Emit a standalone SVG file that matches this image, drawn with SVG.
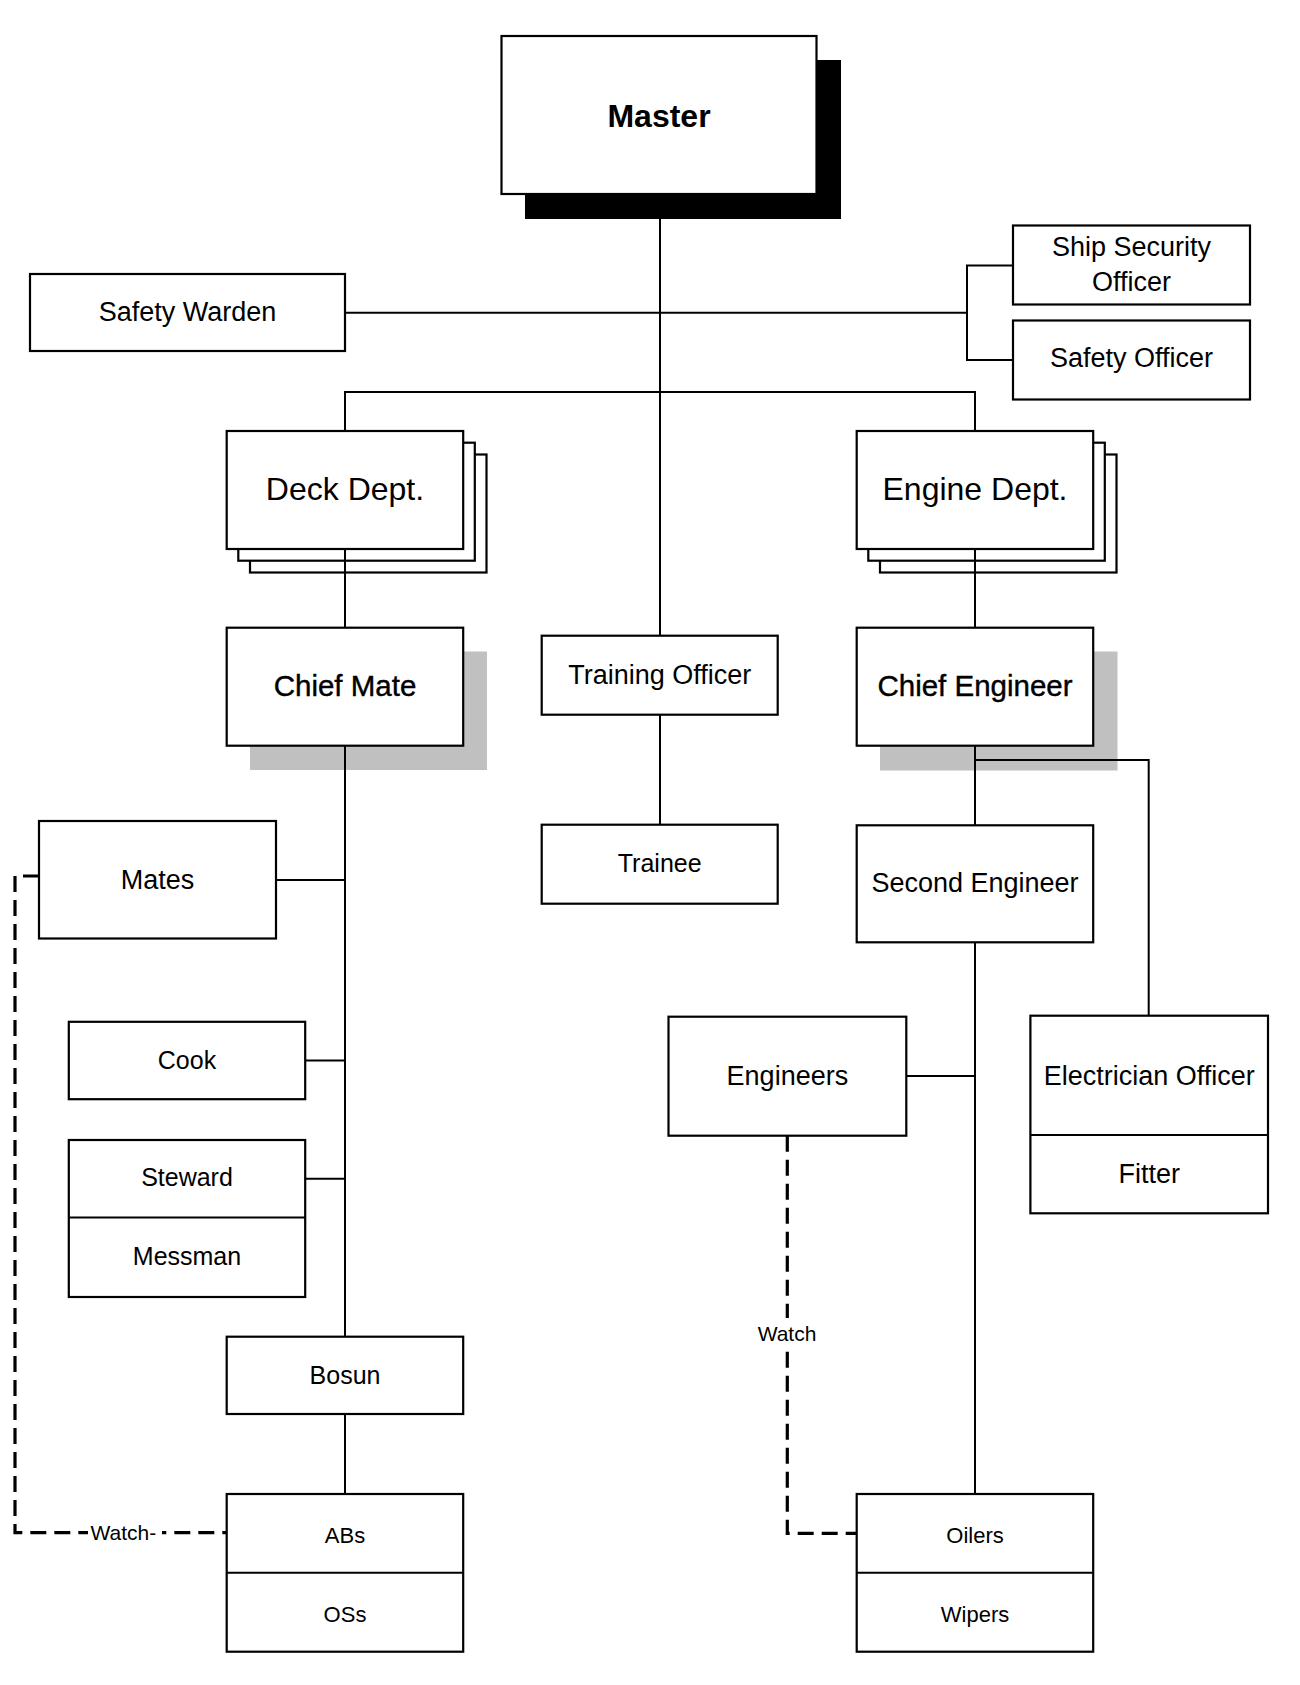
<svg xmlns="http://www.w3.org/2000/svg" width="1300" height="1685" viewBox="0 0 1300 1685">
<style>
.box{fill:#fff;stroke:#000;stroke-width:2.2}
.ln{fill:none;stroke:#000;stroke-width:2}
.dash{fill:none;stroke:#000;stroke-width:3.2;stroke-dasharray:16 8}
.gray{fill:#c0c0c0}
text{font-family:"Liberation Sans",Arial,sans-serif;fill:#000;text-anchor:middle}
.t27{font-size:27px}
.t25{font-size:25px}
.t22{font-size:22px}
.t32{font-size:32px}
.b{font-weight:bold}
.med{font-size:29.5px;stroke:#000;stroke-width:0.4}
</style>
<rect width="1300" height="1685" fill="#fff"/>
<g id="master">
<rect x="525" y="60" width="316" height="159" fill="#000"/>
<rect class="box" x="501.5" y="36" width="315" height="158"/>
<text class="t32 b" x="659" y="126.5">Master</text>
</g>
<g id="safety-warden">
<rect class="box" x="30" y="274" width="315" height="77"/>
<text class="t27" x="187.5" y="321">Safety Warden</text>
</g>
<g id="ship-security-officer">
<rect class="box" x="1013" y="225.5" width="237" height="79"/>
<text class="t27" x="1131.5" y="256">Ship Security</text>
<text class="t27" x="1131.5" y="290.5">Officer</text>
</g>
<g id="safety-officer">
<rect class="box" x="1013" y="320.5" width="237" height="79"/>
<text class="t27" x="1131.5" y="367">Safety Officer</text>
</g>
<g id="deck-dept">
<rect class="box" x="250" y="454.5" width="236.5" height="118"/>
<rect class="box" x="238.3" y="442.7" width="236.5" height="118"/>
<rect class="box" x="226.7" y="431" width="236.5" height="118"/>
<text class="t32" x="345" y="499.5">Deck Dept.</text>
</g>
<g id="engine-dept">
<rect class="box" x="880" y="454.5" width="236.5" height="118"/>
<rect class="box" x="868.3" y="442.7" width="236.5" height="118"/>
<rect class="box" x="856.7" y="431" width="236.5" height="118"/>
<text class="t32" x="975" y="499.5">Engine Dept.</text>
</g>
<g id="chief-mate">
<rect class="gray" x="250" y="651.5" width="237" height="118.5"/>
<rect class="box" x="226.7" y="627.7" width="236.5" height="118"/>
<text class="med" x="345" y="695.5">Chief Mate</text>
</g>
<g id="chief-engineer">
<rect class="gray" x="880" y="651.5" width="237.5" height="119"/>
<rect class="box" x="856.7" y="627.7" width="236.5" height="118"/>
<text class="med" x="975" y="695.5">Chief Engineer</text>
</g>
<g id="training-officer">
<rect class="box" x="541.7" y="635.7" width="236" height="79"/>
<text class="t27" x="659.7" y="684">Training Officer</text>
</g>
<g id="trainee">
<rect class="box" x="541.7" y="824.7" width="236" height="79"/>
<text class="t25" x="659.7" y="872">Trainee</text>
</g>
<g id="mates">
<rect class="box" x="39" y="821" width="237" height="117.5"/>
<text class="t27" x="157.5" y="888.5">Mates</text>
</g>
<g id="cook">
<rect class="box" x="68.8" y="1021.8" width="236.4" height="77.4"/>
<text class="t25" x="187" y="1068.5">Cook</text>
</g>
<g id="steward-messman">
<rect class="box" x="68.8" y="1140" width="236.4" height="157"/>
<line class="ln" x1="68.8" y1="1217.4" x2="305.2" y2="1217.4"/>
<text class="t25" x="187" y="1186">Steward</text>
<text class="t25" x="187" y="1265">Messman</text>
</g>
<g id="bosun">
<rect class="box" x="226.7" y="1336.7" width="236.5" height="77.3"/>
<text class="t25" x="345" y="1383.5">Bosun</text>
</g>
<g id="abs-oss">
<rect class="box" x="226.7" y="1494" width="236.5" height="157.7"/>
<line class="ln" x1="226.7" y1="1572.7" x2="463.2" y2="1572.7"/>
<text class="t22" x="345" y="1542.5">ABs</text>
<text class="t22" x="345" y="1621.5">OSs</text>
</g>
<g id="second-engineer">
<rect class="box" x="856.7" y="825.3" width="236.5" height="117"/>
<text class="t27" x="975" y="892">Second Engineer</text>
</g>
<g id="engineers">
<rect class="box" x="668.5" y="1016.7" width="237.8" height="119"/>
<text class="t27" x="787.4" y="1085">Engineers</text>
</g>
<g id="electrician-fitter">
<rect class="box" x="1030.4" y="1015.7" width="237.6" height="197.6"/>
<line class="ln" x1="1030.4" y1="1135" x2="1268" y2="1135"/>
<text class="t27" x="1149.2" y="1084.5">Electrician Officer</text>
<text class="t27" x="1149.2" y="1182.5">Fitter</text>
</g>
<g id="oilers-wipers">
<rect class="box" x="856.7" y="1494" width="236.5" height="157.7"/>
<line class="ln" x1="856.7" y1="1572.7" x2="1093.2" y2="1572.7"/>
<text class="t22" x="975" y="1542.5">Oilers</text>
<text class="t22" x="975" y="1621.5">Wipers</text>
</g>
<g id="connectors">
<path class="ln" d="M660 219 V635.7"/>
<path class="ln" d="M345 312.7 H967"/>
<path class="ln" d="M1013 265.5 H967 V360 H1013"/>
<path class="ln" d="M345 431 V392 H975 V431"/>
<path class="ln" d="M660 714.7 V824.7"/>
<path class="ln" d="M345 549 V627.7"/>
<path class="ln" d="M345 745.7 V1336.7"/>
<path class="ln" d="M276 880 H345"/>
<path class="ln" d="M305.2 1060.5 H345"/>
<path class="ln" d="M305.2 1178.7 H345"/>
<path class="ln" d="M345 1414 V1494"/>
<path class="ln" d="M975 549 V627.7"/>
<path class="ln" d="M975 745.7 V825.3"/>
<path class="ln" d="M975 760 H1148.7 V1015.7"/>
<path class="ln" d="M975 942.3 V1494"/>
<path class="ln" d="M906.3 1076 H975"/>
<path class="dash" d="M39 876 H15 V1532.7 H226.7"/>
<path class="dash" d="M787.3 1135.7 V1533.3 H856.7"/>
<rect x="88" y="1518" width="74" height="28" fill="#fff"/>
<text style="font-size:21px;text-anchor:start" x="90.5" y="1540">Watch-</text>
<rect x="755" y="1318" width="64" height="28" fill="#fff"/>
<text style="font-size:21px" x="787" y="1340.5">Watch</text>
</g>
</svg>
